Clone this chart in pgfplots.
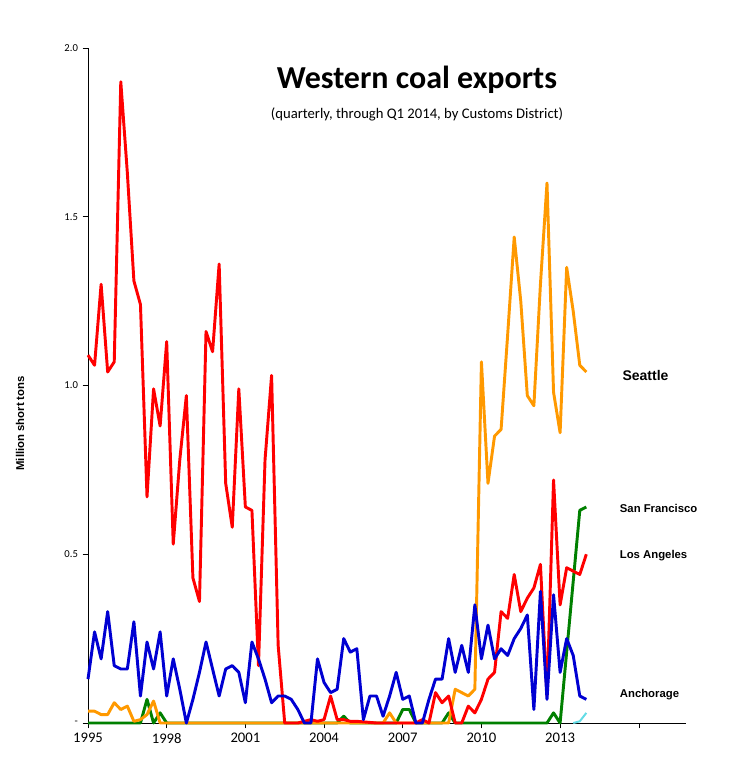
\documentclass[border=0pt]{standalone}
\usepackage{pgfplots}
\pgfplotsset{compat=1.18}
\usepackage{fontspec}
\setmainfont{Liberation Sans}
\newfontfamily\calfont{Carlito}
\definecolor{cred}{RGB}{255,0,0}
\definecolor{cblue}{RGB}{0,0,210}
\definecolor{corange}{RGB}{255,153,0}
\definecolor{cgreen}{RGB}{0,128,0}
\definecolor{ccyan}{RGB}{100,220,230}
\begin{document}
\begin{tikzpicture}
\path (0,0) rectangle (563.25pt,586.5pt);
\begin{axis}[at={(66pt,44.25pt)},anchor=south west,
 width=448.5pt,height=506.25pt,scale only axis,
 xmin=1995,xmax=2017.8,ymin=0,ymax=2,
 axis x line=bottom, axis y line=left, axis line style={-},
 xtick={1995,1998,2001,2004,2007,2010,2013,2016},
 xticklabels={1995,1998,2001,2004,2007,2010,2013,},
 ytick={0,0.5,1,1.5,2}, yticklabels={-,0.5,1.0,1.5,2.0},
 tick align=outside, major tick length=4pt,
 xticklabel style={font=\calfont\fontsize{11}{11}\selectfont},
 yticklabel style={font=\calfont\fontsize{8}{8}\selectfont},
 every tick/.style={black},
 clip=false, line join=round]
\addplot[cgreen,line width=2.2pt] coordinates {(1995,0)(1997,0)(1997.25,0.07)(1997.5,0)(1997.75,0.03)(1998,0)(2004.5,0)(2004.75,0.02)(2005,0)(2006.75,0)(2007,0.04)(2007.25,0.04)(2007.5,0)(2008.5,0)(2008.75,0.03)(2009,0)(2012.5,0)(2012.75,0.03)(2013,0)(2013.25,0.21)(2013.5,0.42)(2013.75,0.63)(2014,0.64)};
\addplot[ccyan,line width=1.5pt] coordinates {(2013.5,0)(2013.75,0.005)(2014,0.03)};
\addplot[corange,line width=2.2pt] coordinates {(1995,0.035)(1995.25,0.035)(1995.5,0.025)(1995.75,0.025)(1996,0.06)(1996.25,0.04)(1996.5,0.05)(1996.75,0.005)(1997,0.01)(1997.25,0.025)(1997.5,0.065)(1997.75,0)(2006.25,0)(2006.5,0.03)(2006.75,0)(2008.75,0)(2009,0.10)(2009.25,0.09)(2009.5,0.08)(2009.75,0.10)(2010,1.07)(2010.25,0.71)(2010.5,0.85)(2010.75,0.87)(2011,1.15)(2011.25,1.44)(2011.5,1.25)(2011.75,0.97)(2012,0.94)(2012.25,1.30)(2012.5,1.60)(2012.75,0.98)(2013,0.86)(2013.25,1.35)(2013.5,1.22)(2013.75,1.06)(2014,1.04)};
\addplot[cred,line width=2.2pt] coordinates {(1995,1.09)(1995.25,1.06)(1995.5,1.30)(1995.75,1.04)(1996,1.07)(1996.25,1.90)(1996.5,1.63)(1996.75,1.31)(1997,1.24)(1997.25,0.67)(1997.5,0.99)(1997.75,0.88)(1998,1.13)(1998.25,0.53)(1998.5,0.78)(1998.75,0.97)(1999,0.43)(1999.25,0.36)(1999.5,1.16)(1999.75,1.10)(2000,1.36)(2000.25,0.71)(2000.5,0.58)(2000.75,0.99)(2001,0.64)(2001.25,0.63)(2001.5,0.17)(2001.75,0.78)(2002,1.03)(2002.25,0.23)(2002.5,0)(2003,0)(2003.25,0.005)(2003.5,0.01)(2003.75,0.005)(2004,0.01)(2004.25,0.08)(2004.5,0.01)(2004.75,0.01)(2005,0.005)(2005.25,0.005)(2006,0)(2007.5,0)(2007.75,0.01)(2008,0)(2008.25,0.09)(2008.5,0.06)(2008.75,0.08)(2009,0)(2009.25,0)(2009.5,0.05)(2009.75,0.03)(2010,0.07)(2010.25,0.13)(2010.5,0.15)(2010.75,0.33)(2011,0.31)(2011.25,0.44)(2011.5,0.33)(2011.75,0.37)(2012,0.40)(2012.25,0.47)(2012.5,0.08)(2012.75,0.72)(2013,0.35)(2013.25,0.46)(2013.5,0.45)(2013.75,0.44)(2014,0.50)};
\addplot[cblue,line width=2.2pt] coordinates {(1995,0.13)(1995.25,0.27)(1995.5,0.19)(1995.75,0.33)(1996,0.17)(1996.25,0.16)(1996.5,0.16)(1996.75,0.30)(1997,0.08)(1997.25,0.24)(1997.5,0.16)(1997.75,0.27)(1998,0.08)(1998.25,0.19)(1998.5,0.10)(1998.75,0)(1999,0.07)(1999.25,0.15)(1999.5,0.24)(1999.75,0.16)(2000,0.08)(2000.25,0.16)(2000.5,0.17)(2000.75,0.15)(2001,0.06)(2001.25,0.24)(2001.5,0.19)(2001.75,0.13)(2002,0.06)(2002.25,0.08)(2002.5,0.08)(2002.75,0.07)(2003,0.04)(2003.25,0)(2003.5,0)(2003.75,0.19)(2004,0.12)(2004.25,0.09)(2004.5,0.10)(2004.75,0.25)(2005,0.21)(2005.25,0.22)(2005.5,0.01)(2005.75,0.08)(2006,0.08)(2006.25,0.02)(2006.5,0.08)(2006.75,0.15)(2007,0.07)(2007.25,0.08)(2007.5,0)(2007.75,0)(2008,0.07)(2008.25,0.13)(2008.5,0.13)(2008.75,0.25)(2009,0.15)(2009.25,0.23)(2009.5,0.15)(2009.75,0.35)(2010,0.19)(2010.25,0.29)(2010.5,0.19)(2010.75,0.22)(2011,0.20)(2011.25,0.25)(2011.5,0.28)(2011.75,0.32)(2012,0.04)(2012.25,0.39)(2012.5,0.07)(2012.75,0.38)(2013,0.15)(2013.25,0.25)(2013.5,0.20)(2013.75,0.08)(2014,0.07)};
\node[font=\bfseries\fontsize{10.5}{10.5}\selectfont,anchor=west] at (axis cs:2015.2,1.03) {Seattle};
\node[font=\bfseries\fontsize{8.5}{8.5}\selectfont,anchor=west] at (axis cs:2015.1,0.635) {San Francisco};
\node[font=\bfseries\fontsize{8.5}{8.5}\selectfont,anchor=west] at (axis cs:2015.1,0.497) {Los Angeles};
\node[font=\bfseries\fontsize{8.5}{8.5}\selectfont,anchor=west] at (axis cs:2015.1,0.085) {Anchorage};
\end{axis}
\node[font=\calfont\bfseries\fontsize{24}{24}\selectfont] at (312.75pt,526.5pt) {Western coal exports};
\node[font=\calfont\fontsize{11}{11}\selectfont] at (312.75pt,500.5pt) {(quarterly, through Q1 2014, by Customs District)};
\node[font=\bfseries\fontsize{8.5}{8.5}\selectfont,rotate=90] at (15pt,269pt) {Million short tons};
\end{tikzpicture}
\end{document}
